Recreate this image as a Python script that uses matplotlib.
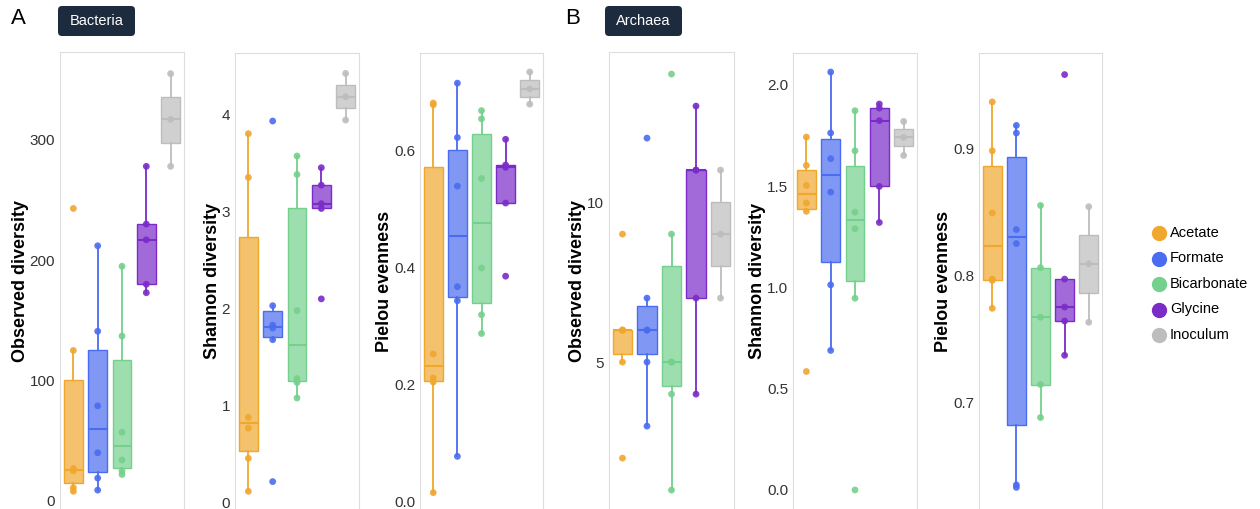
import matplotlib
matplotlib.use("Agg")
import matplotlib.pyplot as plt
from matplotlib.patches import FancyBboxPatch
from matplotlib.lines import Line2D
from matplotlib.colors import to_rgba

plt.rcParams['font.family'] = ['Liberation Sans', 'DejaVu Sans']

groups = ["Acetate", "Formate", "Bicarbonate", "Glycine", "Inoculum"]
colors = ["#F0A72E", "#4A6CF0", "#74D08C", "#7A2BC8", "#BDBDBD"]

# Bacteria
bac_observed = [
    [8, 11, 25, 27, 125, 243],
    [9, 19, 40, 79, 141, 212],
    [22, 25, 34, 57, 137, 195],
    [173, 180, 217, 230, 278],
    [278, 317, 355],
]
bac_shannon = [
    [0.12, 0.46, 0.77, 0.88, 3.35, 3.8],
    [0.22, 1.68, 1.80, 1.83, 2.03, 3.93],
    [1.08, 1.24, 1.28, 1.98, 3.38, 3.57],
    [2.1, 3.03, 3.08, 3.27, 3.45],
    [3.94, 4.18, 4.42],
]
bac_pielou = [
    [0.016, 0.205, 0.212, 0.253, 0.679, 0.682],
    [0.078, 0.344, 0.368, 0.54, 0.623, 0.716],
    [0.288, 0.32, 0.40, 0.553, 0.655, 0.669],
    [0.386, 0.511, 0.572, 0.576, 0.62],
    [0.68, 0.706, 0.735],
]

# Archaea
arc_observed = [
    [2, 5, 6, 6, 6, 9],
    [3, 5, 6, 6, 7, 12],
    [1, 4, 5, 5, 9, 14],
    [4, 7, 11, 11, 13],
    [7, 9, 11],
]
arc_shannon = [
    [0.585, 1.376, 1.417, 1.504, 1.603, 1.743],
    [0.689, 1.013, 1.471, 1.636, 1.763, 2.064],
    [0.0, 0.947, 1.29, 1.372, 1.675, 1.873],
    [1.321, 1.499, 1.824, 1.886, 1.906],
    [1.652, 1.741, 1.82],
]
arc_pielou = [
    [0.774, 0.796, 0.797, 0.849, 0.898, 0.9365],
    [0.633, 0.635, 0.825, 0.836, 0.912, 0.918],
    [0.688, 0.714, 0.767, 0.806, 0.855],
    [0.737, 0.764, 0.775, 0.797, 0.958],
    [0.763, 0.809, 0.854],
]

W, H = 1260, 509
fig = plt.figure(figsize=(W / 100, H / 100), dpi=100, facecolor="white")


def inch(x, y):
    # pixel position (from top-left) -> inches for dpi_scale_trans
    return x / 100, (H - y) / 100


# data, label, ylim, ticks, tick format, left px, right px, top px
panels = [
    (bac_observed, "Observed diversity", (-6.7, 373), [0, 100, 200, 300], "{:.0f}", 60, 184, 52),
    (bac_shannon, "Shannon diversity", (-0.062, 4.63), [0, 1, 2, 3, 4], "{:.0f}", 235, 359, 53),
    (bac_pielou, "Pielou evenness", (-0.012, 0.7675), [0, 0.2, 0.4, 0.6], "{:.1f}", 420, 543, 53),
    (arc_observed, "Observed diversity", (0.41, 14.69), [5, 10], "{:.0f}", 609, 734, 52),
    (arc_shannon, "Shannon diversity", (-0.094, 2.158), [0, 0.5, 1.0, 1.5, 2.0], "{:.1f}", 793, 917, 53),
    (arc_pielou, "Pielou evenness", (0.616, 0.975), [0.7, 0.8, 0.9], "{:.1f}", 979, 1102, 53),
]

for data, label, ylim, ticks, fmt, left, right, top in panels:
    ax = fig.add_axes([left / W, 0, (right - left) / W, (H - top) / H])
    bp = ax.boxplot(data, positions=range(len(groups)), widths=0.78, patch_artist=True,
                    showfliers=False, showcaps=False, whis=1.5)
    for i, c in enumerate(colors):
        bp['boxes'][i].set(facecolor=to_rgba(c, 0.7), edgecolor=c, linewidth=1)
        bp['whiskers'][2 * i].set(color=c, linewidth=1.3)
        bp['whiskers'][2 * i + 1].set(color=c, linewidth=1.3)
        bp['medians'][i].set(color=c, linewidth=1.5)
        ax.scatter([i] * len(data[i]), data[i], s=24, color=c, alpha=0.9,
                   edgecolors="none", zorder=3)
    ax.set_xlim(-0.55, len(groups) - 0.45)
    ax.set_ylim(ylim)
    ax.set_xticks([])
    ax.set_yticks(ticks)
    ax.set_yticklabels([fmt.format(t) for t in ticks])
    ax.tick_params(axis="y", length=0, pad=3.5, labelsize=11, labelcolor="#333333")
    for s in ["top", "left", "right"]:
        ax.spines[s].set_color("#dddddd")
    ax.spines["bottom"].set_visible(False)
    ax.set_ylabel(label, fontsize=13, fontweight="bold", labelpad=0.5)

# panel letters and badges
for letter, lx, name, bx in [("A", 18, "Bacteria", 58), ("B", 573, "Archaea", 605)]:
    fig.text(*inch(lx, 19), letter, transform=fig.dpi_scale_trans, fontsize=16,
             ha="center", va="center")
    x0, y0 = inch(bx, 36)
    badge = FancyBboxPatch((x0, y0), 0.77, 0.30, boxstyle="round,pad=0,rounding_size=0.04",
                           transform=fig.dpi_scale_trans, facecolor="#1d2b3e", edgecolor="none")
    fig.add_artist(badge)
    fig.text(*inch(bx + 38.5, 21), name, transform=fig.dpi_scale_trans, fontsize=10.5,
             color="white", ha="center", va="center")

# legend
for i, (g, c) in enumerate(zip(groups, colors)):
    y = 233 + i * 25.5
    fig.add_artist(Line2D([inch(1159, y)[0]], [inch(1159, y)[1]], marker="o", markersize=10,
                          color=c, linestyle="none", transform=fig.dpi_scale_trans))
    fig.text(*inch(1170, y), g, transform=fig.dpi_scale_trans, fontsize=10.5,
             ha="left", va="center")

fig.savefig("out.png", dpi=100)
